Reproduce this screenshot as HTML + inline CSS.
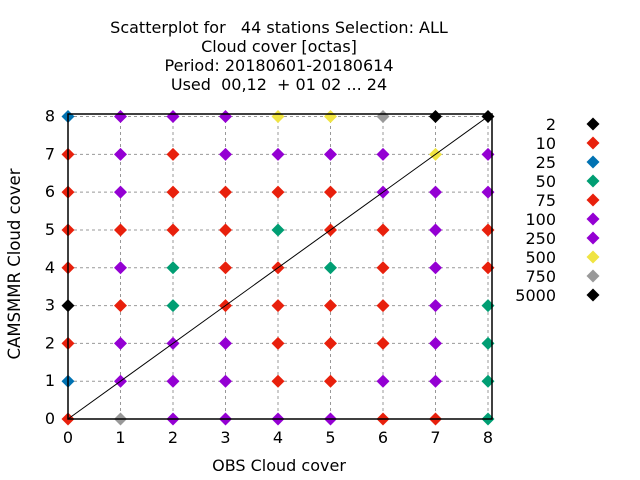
<!DOCTYPE html>
<html><head><meta charset="utf-8"><style>
body{margin:0;background:#fff;}
svg{display:block;font-family:"DejaVu Sans","Liberation Sans",sans-serif;}
text{white-space:pre;}
</style></head><body>
<svg id="chart" width="640" height="480" viewBox="0 0 640 480">
<g font-size="16" text-anchor="middle" fill="#000">
<text x="279" y="33" xml:space="preserve">Scatterplot for   44 stations Selection: ALL</text>
<text x="279" y="52">Cloud cover [octas]</text>
<text x="279" y="71">Period: 20180601-20180614</text>
<text x="279" y="90" xml:space="preserve">Used  00,12  + 01 02 ... 24</text>
</g>
<g id="grid"></g>
<g id="points"></g>
<g id="axes"></g>
<text x="279" y="471" font-size="16" text-anchor="middle">OBS Cloud cover</text>
<text transform="translate(20,264) rotate(-90)" font-size="16.5" text-anchor="middle">CAMSMMR Cloud cover</text>
<g id="legend"></g>
</svg>
<script>
const xTicks=[0,1,2,3,4,5,6,7,8];
const yTicks=[0,1,2,3,4,5,6,7,8];
const legendLabels=["2","10","25","50","75","100","250","500","750","5000"];
const legendColors=["#000000","#e8200c","#0072b2","#009e73","#e8200c","#9400d3","#9400d3","#f0e442","#999999","#000000"];
// category index per point: rows y=8 down to y=0, columns x=0..8
const gridRows=[8,7,6,5,4,3,2,1,0];
const cats=[
[2,6,6,6,7,7,8,9,9],
[1,6,1,6,6,6,6,7,6],
[1,6,1,1,1,1,6,6,6],
[1,1,1,1,3,1,1,6,1],
[1,6,3,1,1,3,1,6,1],
[9,1,3,1,1,1,1,6,3],
[1,6,6,6,1,1,1,6,3],
[2,6,6,6,1,1,6,6,3],
[1,8,6,6,6,6,1,1,3]
];
const NS="http://www.w3.org/2000/svg";
const X0=68,X1=488,Y0=419,Y1=116.5;
const FX1=492,FY1=114;
function sx(v){return X0+(v-0)/(8-0)*(X1-X0);}
function sy(v){return Y0-(v-0)/(8-0)*(Y0-Y1);}
function mk(tag,attrs,parent){const e=document.createElementNS(NS,tag);for(const k in attrs)e.setAttribute(k,attrs[k]);parent.appendChild(e);return e;}
function diamond(cx,cy,r){return `${cx},${cy-r} ${cx+r},${cy} ${cx},${cy+r} ${cx-r},${cy}`;}
const grid=document.getElementById('grid');
xTicks.forEach(t=>{
  const l=mk('line',{x1:sx(t),x2:sx(t),y1:FY1,y2:Y0,stroke:'#999','stroke-width':1,'stroke-dasharray':'3,3'},grid);
  
  
});
yTicks.forEach(t=>{
  const l=mk('line',{x1:X0,x2:FX1,y1:sy(t),y2:sy(t),stroke:'#999','stroke-width':1,'stroke-dasharray':'3,3'},grid);
  
  
});
const axes=document.getElementById('axes');
const box=mk('rect',{x:X0,y:FY1,width:FX1-X0,height:Y0-FY1,fill:'none',stroke:'#000','stroke-width':1.5},axes);


const diag=mk('line',{x1:sx(0),y1:sy(0),x2:sx(8),y2:sy(8),stroke:'#000','stroke-width':1},axes);


xTicks.forEach(t=>{
  const tx=mk('text',{x:sx(t),y:Y0+24,'font-size':16,'text-anchor':'middle'},axes);
  tx.textContent=t;
  
  
});
yTicks.forEach(t=>{
  const tx=mk('text',{x:X0-13,y:sy(t)+5,'font-size':16,'text-anchor':'end'},axes);
  tx.textContent=t;
  
  
});
const pts=document.getElementById('points');
gridRows.forEach((yv,ri)=>{
  xTicks.forEach((xv,ci)=>{
    const c=cats[ri][ci];
    const p=mk('polygon',{points:diamond(sx(xv),sy(yv),6.5),fill:legendColors[c]},pts);
    
    
  });
});
const leg=document.getElementById('legend');
legendLabels.forEach((lab,i)=>{
  const y=124+i*19;
  const t=mk('text',{x:556,y:y+6,'font-size':16,'text-anchor':'end'},leg);
  t.textContent=lab;
  
  
  const d=mk('polygon',{points:diamond(593,y,6.5),fill:legendColors[i]},leg);
  
  
});
</script>
</body></html>
